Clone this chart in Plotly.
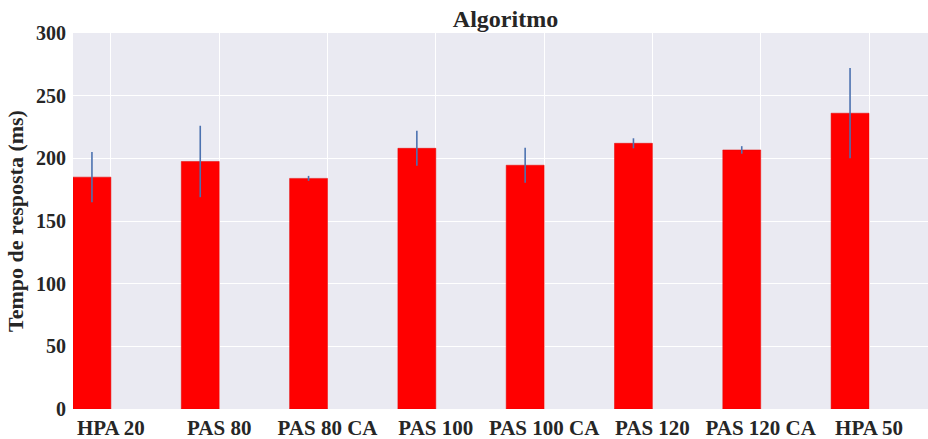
import plotly.graph_objects as go

categories = ["HPA 20", "PAS 80", "PAS 80 CA", "PAS 100", "PAS 100 CA", "PAS 120", "PAS 120 CA", "HPA 50"]
means = [185, 197.5, 184, 208, 194.5, 212, 206.7, 236]
errors = [20, 28.5, 2, 14, 14, 4, 3, 36]
y_ticks = [0, 50, 100, 150, 200, 250, 300]

BAR_W = 0.35
idx = list(range(len(categories)))
bar_centers = [i + BAR_W / 2 for i in idx]
tick_pos = [i + BAR_W for i in idx]

FONT = "Liberation Serif"
TXT = "#262626"

fig = go.Figure()
fig.add_trace(go.Bar(
    x=bar_centers, y=means, width=BAR_W,
    marker=dict(color="#FF0000", line=dict(color="#E00000", width=0.5)),
    error_y=dict(type="data", array=errors, visible=True, color="#4C72B0", thickness=1.6, width=0),
    showlegend=False,
))

fig.update_layout(
    width=928, height=439,
    margin=dict(l=73, r=0, t=33, b=30),
    paper_bgcolor="white",
    plot_bgcolor="#EAEAF2",
    title=dict(text="Algoritmo", x=505.5 / 928, xref="container", xanchor="center",
               y=1 - 19 / 439, yref="container", yanchor="middle",
               font=dict(family=FONT, size=24, color=TXT, weight="bold")),
    xaxis=dict(range=[0, (928 - 73) / 108.3], tickvals=tick_pos, ticktext=categories,
               showgrid=True, gridcolor="white", gridwidth=1.2, zeroline=False,
               showline=False, ticks="", ticklabelstandoff=4,
               tickfont=dict(family=FONT, size=21, color=TXT, weight="bold")),
    yaxis=dict(range=[0, 300], tickvals=y_ticks, showgrid=True, gridcolor="white",
               gridwidth=1.2, zeroline=False, showline=False, ticks="",
               ticklabelstandoff=6,
               tickfont=dict(family=FONT, size=20, color=TXT, weight="bold"),
               title=dict(text="Tempo de resposta (ms)", standoff=6,
                          font=dict(family=FONT, size=22, color=TXT, weight="bold"))),
)

fig.write_html("out.html")
